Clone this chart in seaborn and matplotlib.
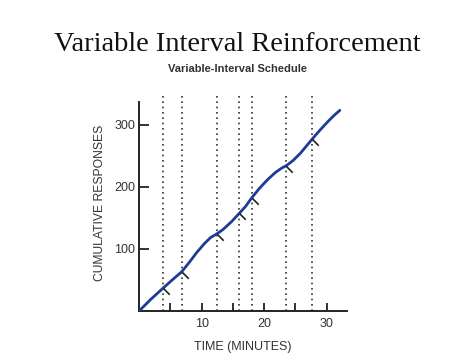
import matplotlib
matplotlib.use("Agg")
import matplotlib.pyplot as plt
import pandas as pd
import seaborn as sns

# cumulative record
minutes = [0, 2, 3.86, 5.3, 6.8, 8.0, 9.2, 10.4, 11.4, 12.4, 13.4, 14.8, 16, 17, 18, 19.2, 20.5, 21.8, 22.8, 23.55,
           24.6, 25.8, 27.7, 29.0, 30.2, 31.2, 32.1]
responses = [0, 20, 37, 50, 63, 78, 94, 108, 118, 124, 131, 144, 157, 168, 182, 197, 211, 223, 230, 234,
             242, 254, 277, 292, 305, 315, 323]

# reinforcement times (dotted lines) and the response count there
reinf_minutes = [3.86, 6.8, 12.4, 16.0, 18.0, 23.55, 27.7]
reinf_responses = [37, 63, 124, 157, 182, 234, 277]

x_ticks = [10, 20, 30]
x_minor = [5, 15, 25]
y_ticks = [100, 200, 300]

record = pd.DataFrame({"minutes": minutes, "responses": responses})
marks = pd.DataFrame({"minutes": reinf_minutes, "responses": reinf_responses})

sns.set_style("white")
plt.rcParams["font.family"] = ["Liberation Sans", "DejaVu Sans"]

fig = plt.figure(figsize=(4.74, 3.55), dpi=100)
ax = fig.add_axes([0.2935, 0.124, 0.438, 0.609])

for t in reinf_minutes:
    ax.axvline(t, ymin=0, ymax=1, color="#333333", linestyle=(0, (1, 2.2)), linewidth=1.2, zorder=1)

sns.lineplot(data=record, x="minutes", y="responses", ax=ax, color="#1e3c96", linewidth=2.0, zorder=3)

slash = [(0, 0), (1, -1)]
ax.plot(marks["minutes"], marks["responses"], linestyle="none", marker=slash,
        markersize=9, markeredgewidth=1.2, color="#222222", zorder=4)

ax.set_xlim(0, 33.2)
ax.set_ylim(0, 348)
ax.spines["top"].set_visible(False)
ax.spines["right"].set_visible(False)
ax.spines["left"].set_bounds(0, 337)
for s in ("left", "bottom"):
    ax.spines[s].set_color("#222222")
    ax.spines[s].set_linewidth(1.4)

ax.set_xticks(x_ticks)
ax.set_xticks(x_minor, minor=True)
ax.set_yticks(y_ticks)
ax.tick_params(axis="x", which="both", direction="in", length=6, width=1.3, color="#222222",
               labelsize=9, labelcolor="#333333", pad=5, bottom=True)
ax.tick_params(axis="y", direction="in", length=7, width=1.3, color="#222222",
               labelsize=9, labelcolor="#333333", pad=3, left=True)

ax.set_xlabel("TIME (MINUTES)", fontsize=9, color="#333333", labelpad=8)
ax.set_ylabel("CUMULATIVE RESPONSES", fontsize=8.7, color="#333333", labelpad=6)

fig.text(0.5, 0.875, "Variable Interval Reinforcement", ha="center", va="center",
         fontsize=20.5, family=["Liberation Serif", "DejaVu Serif"], color="#111111")
fig.text(0.5, 0.805, "Variable-Interval Schedule", ha="center", va="center",
         fontsize=8, fontweight="bold", color="#333333")

fig.savefig("out.png", dpi=100)
